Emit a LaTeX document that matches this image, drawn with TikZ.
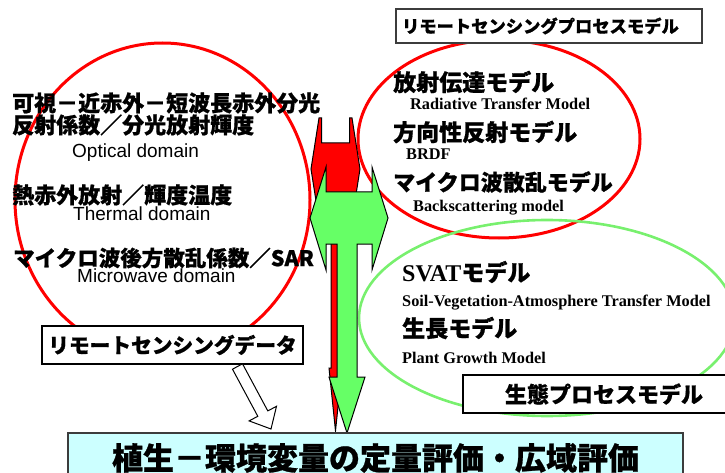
\documentclass[tikz,border=0pt]{standalone}
\usepackage{fontspec}
\setmainfont{Liberation Serif}
\newfontfamily\cjk{Noto Sans CJK JP}[BoldFeatures={FakeBold=0.8}]
\newfontfamily\arialf{Liberation Sans}
\newfontfamily\tnr{Liberation Serif}
\usetikzlibrary{shapes.geometric}
\definecolor{rred}{RGB}{255,0,0}
\definecolor{agreen}{RGB}{102,255,102}
\definecolor{egreen}{RGB}{120,240,110}
\definecolor{lcyan}{RGB}{204,255,255}
\definecolor{bordergray}{RGB}{60,60,60}
\tikzset{
  jpl/.style={font=\cjk\bfseries\fontsize{22}{26}\selectfont, inner sep=0pt, anchor=west},
  jpr/.style={font=\cjk\bfseries\fontsize{23}{27}\selectfont, inner sep=0pt, anchor=west},
  domtxt/.style={font=\arialf\fontsize{19}{22}\selectfont, inner sep=0pt, anchor=base west},
  entxt/.style={font=\tnr\bfseries\fontsize{16.3}{19}\selectfont, inner sep=0pt, anchor=base west},
  redell/.style={draw=rred, line width=3pt, ellipse, inner sep=0pt},
  greenell/.style={draw=egreen, line width=2.6pt, ellipse, inner sep=0pt},
  labelbox/.style={draw=black, fill=white, line width=1.2pt, inner sep=0pt},
  blockarrow/.style={draw=black, line width=1pt, line join=miter},
}
\begin{document}
\begin{tikzpicture}[x=1pt,y=-1pt]
\useasboundingbox (0,0) rectangle (725,473);

% ellipses
\node[redell, minimum width=295pt, minimum height=314pt] (optell) at (162.5,200) {};
\node[redell, minimum width=282pt, minimum height=198pt] (rsell) at (499,139) {};
\node[greenell, minimum width=376pt, minimum height=196pt] (ecoell) at (547,318) {};

% red arrow (behind)
\filldraw[blockarrow, fill=rred]
  (319,118) -- (321.5,118) -- (321.5,143) -- (349.5,143) -- (349.5,118) -- (352,118)
  -- (360,169) -- (352,220) -- (339,220) -- (339,368) -- (342,368) -- (335.5,431)
  -- (329,368) -- (331,368) -- (331,220) -- (319,220) -- (311,169) -- cycle;

% green arrow
\filldraw[blockarrow, fill=agreen]
  (326,167) -- (326,192) -- (372,192) -- (372,167) -- (388,218) -- (372,270)
  -- (372,244) -- (357,244) -- (357,377) -- (365,377) -- (347,433) -- (329,377)
  -- (337,377) -- (337,244) -- (326,244) -- (326,270) -- (310,218) -- cycle;

% boxes
\node[labelbox, draw=bordergray, minimum height=34pt, text width=294pt, inner xsep=6pt, align=left,
      font=\cjk\bfseries\fontsize{17.3}{20}\selectfont] (rsmodel) at (549,26) {リモートセンシングプロセスモデル};
\node[labelbox, minimum width=261pt, minimum height=38pt,
      font=\cjk\bfseries\fontsize{20.7}{24}\selectfont] (rsdata) at (172.5,345) {リモートセンシングデータ};
\node[labelbox, minimum width=282pt, minimum height=38pt,
      font=\cjk\bfseries\fontsize{22}{26}\selectfont] (ecomodel) at (604,394) {生態プロセスモデル};
\node[labelbox, draw=bordergray, fill=lcyan, minimum width=615pt, minimum height=50pt,
      font=\cjk\bfseries\fontsize{31}{36}\selectfont] (result) at (375.5,458) {植生－環境変量の定量評価・広域評価};

% hollow arrow from data box to result box
\filldraw[blockarrow, fill=white]
  (232.5,369.2) -- (242.5,363.8) -- (267.8,410.9) -- (276.5,406.3) -- (271,429)
  -- (249.1,420.9) -- (257.8,416.3) -- cycle;

% left texts
\node[jpl] (t1) at (12,103) {可視－近赤外－短波長赤外分光};
\node[jpl] (t2) at (12,125) {反射係数／分光放射輝度};
\node[domtxt] (t3) at (72,157.5) {Optical domain};
\node[jpl] (t4) at (12,195) {熱赤外放射／輝度温度};
\node[domtxt] (t5) at (73,220.5) {Thermal domain};
\node[jpl, font=\cjk\bfseries\fontsize{21.5}{26}\selectfont] (t6) at (13,258) {マイクロ波後方散乱係数／SAR};
\node[domtxt] (t7) at (77,282.5) {Microwave domain};

% right red ellipse texts
\node[jpr] (r1) at (393,82) {放射伝達モデル};
\node[entxt] (r2) at (410,110) {Radiative Transfer Model};
\node[jpr] (r3) at (393,132) {方向性反射モデル};
\node[entxt] (r4) at (406,160) {BRDF};
\node[jpr, font=\cjk\bfseries\fontsize{22}{27}\selectfont] (r5) at (393,182) {マイクロ波散乱モデル};
\node[entxt] (r6) at (413,211.5) {Backscattering model};

% green ellipse texts
\node[jpr] (g1) at (402,272) {{\tnr\bfseries\fontsize{24}{27}\selectfont SVAT}モデル};
\node[entxt] (g2) at (402,306.5) {Soil-Vegetation-Atmosphere Transfer Model};
\node[jpr] (g3) at (402,328) {生長モデル};
\node[entxt] (g4) at (402,363) {Plant Growth Model};
\end{tikzpicture}
\end{document}
